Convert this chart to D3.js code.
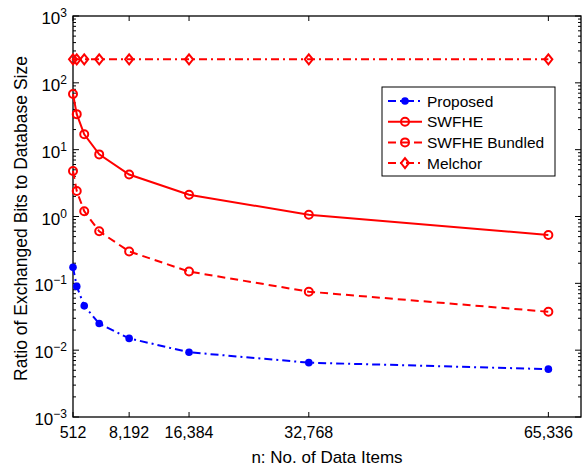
<!DOCTYPE html>
<html>
<head>
<meta charset="utf-8">
<script src="https://cdn.jsdelivr.net/npm/d3@7"></script>
<style>
  body { margin: 0; background: #fff; }
  svg text { font-family: "Liberation Sans", Arial, sans-serif; fill: #000; }
</style>
</head>
<body>
<div id="chart"></div>
<script>
// data
const nItems = [512, 1024, 2048, 4096, 8192, 16384, 32768, 65536];
const proposed = [0.174, 0.09, 0.046, 0.025, 0.015, 0.0093, 0.0065, 0.0052];
const swfhe = [68, 34, 17, 8.5, 4.25, 2.12, 1.06, 0.53];
const swfheBundled = [4.8, 2.4, 1.2, 0.6, 0.3, 0.15, 0.075, 0.0375];
const melchor = [225, 225, 225, 225, 225, 225, 225, 225];
const xTicks = [512, 8192, 16384, 32768, 65536];
const xTickLabels = ["512", "8,192", "16,384", "32,768", "65,336"];
const yTicks = [1e-3, 1e-2, 1e-1, 1, 10, 100, 1000];
const seriesNames = ["Proposed", "SWFHE", "SWFHE Bundled", "Melchor"];

const width = 585, height = 468;
const margin = { left: 73, right: 4, top: 16, bottom: 51 };

const svg = d3.select("#chart").append("svg")
    .attr("width", width)
    .attr("height", height);

const x = d3.scaleLinear().domain([512, 70000]).range([margin.left, width - margin.right]);
const y = d3.scaleLog().domain([1e-3, 1e3]).range([height - margin.bottom, margin.top]);

const series = [
    { name: seriesNames[0], values: proposed, color: "#0000ff", dash: "8,4,2,4", marker: "dot" },
    { name: seriesNames[1], values: swfhe, color: "#ff0000", dash: null, marker: "circle" },
    { name: seriesNames[2], values: swfheBundled, color: "#ff0000", dash: "8,5", marker: "circle" },
    { name: seriesNames[3], values: melchor, color: "#ff0000", dash: "8,4,2,4", marker: "diamond" }
];

// minor ticks for log axis
const minor = [];
for (let e = -3; e < 3; e++) {
    for (let m = 2; m <= 9; m++) minor.push(m * Math.pow(10, e));
}

const axes = svg.append("g").attr("stroke", "#000").attr("stroke-width", 1);
const x0 = x.range()[0], x1 = x.range()[1], y0 = y.range()[0], y1 = y.range()[1];

// ticks (inward, both sides)
yTicks.forEach(v => {
    axes.append("line").attr("x1", x0).attr("x2", x0 + 6).attr("y1", y(v)).attr("y2", y(v));
    axes.append("line").attr("x1", x1).attr("x2", x1 - 6).attr("y1", y(v)).attr("y2", y(v));
});
minor.forEach(v => {
    axes.append("line").attr("x1", x0).attr("x2", x0 + 3).attr("y1", y(v)).attr("y2", y(v));
    axes.append("line").attr("x1", x1).attr("x2", x1 - 3).attr("y1", y(v)).attr("y2", y(v));
});
xTicks.forEach(v => {
    axes.append("line").attr("x1", x(v)).attr("x2", x(v)).attr("y1", y0).attr("y2", y0 - 5);
    axes.append("line").attr("x1", x(v)).attr("x2", x(v)).attr("y1", y1).attr("y2", y1 + 5);
});

svg.append("rect")
    .attr("x", x0).attr("y", y1)
    .attr("width", x1 - x0).attr("height", y0 - y1)
    .attr("fill", "none").attr("stroke", "#000").attr("stroke-width", 1.3);

// y tick labels as 10^e
yTicks.forEach(v => {
    const e = Math.round(Math.log10(v));
    const t = svg.append("text")
        .attr("x", x0 - 6)
        .attr("y", y(v) + 8)
        .attr("text-anchor", "end")
        .style("font-size", "17px");
    t.append("tspan").text("10");
    t.append("tspan")
        .attr("dy", -7)
        .style("font-size", "12px")
        .text(e < 0 ? "\u2212" + (-e) : String(e));
});

// x tick labels
xTicks.forEach((v, i) => {
    svg.append("text")
        .attr("x", x(v))
        .attr("y", y0 + 21)
        .attr("text-anchor", "middle")
        .style("font-size", "16px")
        .text(xTickLabels[i]);
});

svg.append("text")
    .attr("x", (x0 + x1) / 2)
    .attr("y", height - 5)
    .attr("text-anchor", "middle")
    .style("font-size", "17px")
    .text("n: No. of Data Items");

svg.append("text")
    .attr("transform", `translate(27,${(y0 + y1) / 2 + 2}) rotate(-90)`)
    .attr("text-anchor", "middle")
    .style("font-size", "17.5px")
    .text("Ratio of Exchanged Bits to Database Size");

// lines and markers
const line = d3.line().x(d => x(d[0])).y(d => y(d[1]));

function drawMarker(g, kind, color, cx, cy) {
    if (kind === "dot") {
        g.append("circle").attr("cx", cx).attr("cy", cy).attr("r", 3.8).attr("fill", color);
    } else if (kind === "circle") {
        g.append("circle").attr("cx", cx).attr("cy", cy).attr("r", 4)
            .attr("fill", "none").attr("stroke", color).attr("stroke-width", 2);
    } else {
        g.append("path")
            .attr("d", `M${cx},${cy - 5}L${cx + 4},${cy}L${cx},${cy + 5}L${cx - 4},${cy}Z`)
            .attr("fill", "none").attr("stroke", color).attr("stroke-width", 2);
    }
}

series.forEach(s => {
    const pts = nItems.map((n, i) => [n, s.values[i]]);
    const g = svg.append("g");
    g.append("path")
        .attr("d", line(pts))
        .attr("fill", "none")
        .attr("stroke", s.color)
        .attr("stroke-width", 2)
        .attr("stroke-dasharray", s.dash);
    pts.forEach(p => drawMarker(g, s.marker, s.color, x(p[0]), y(p[1])));
});

// legend
const lg = svg.append("g");
lg.append("rect")
    .attr("x", 382).attr("y", 87)
    .attr("width", 173).attr("height", 89)
    .attr("fill", "#fff").attr("stroke", "#000").attr("stroke-width", 1);
series.forEach((s, i) => {
    const ly = 101 + i * 20.7;
    lg.append("line")
        .attr("x1", 388).attr("x2", 422)
        .attr("y1", ly).attr("y2", ly)
        .attr("stroke", s.color).attr("stroke-width", 2)
        .attr("stroke-dasharray", s.dash);
    drawMarker(lg, s.marker, s.color, 405, ly);
    lg.append("text")
        .attr("x", 427).attr("y", ly + 5.5)
        .style("font-size", "15.5px")
        .text(s.name);
});
</script>
</body>
</html>
